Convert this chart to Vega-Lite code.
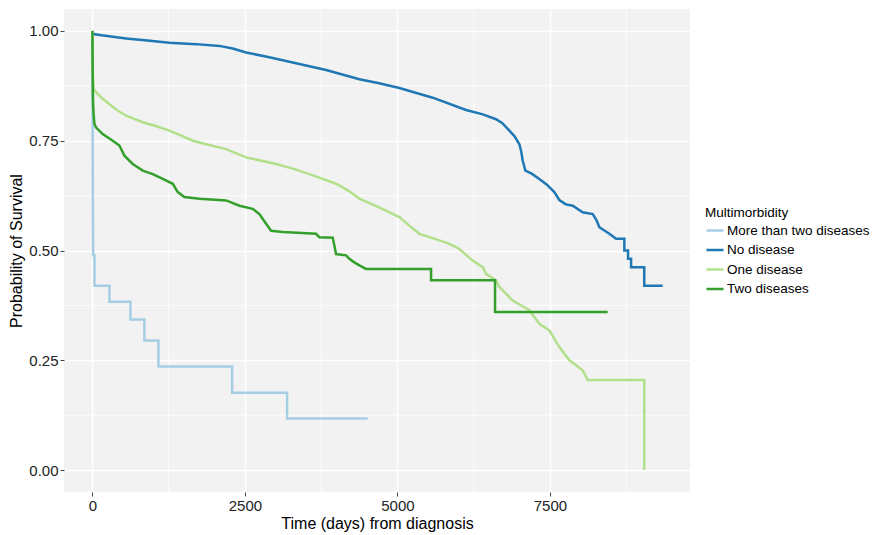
{
  "$schema": "https://vega.github.io/schema/vega-lite/v6.json",
  "width": 626,
  "height": 483,
  "autosize": "none",
  "padding": {"left": 64, "top": 9, "right": 182, "bottom": 43},
  "background": "white",
  "config": {
    "font": "Liberation Sans",
    "view": {"fill": "#F2F2F2", "stroke": null},
    "axis": {
      "domain": false,
      "labelFontSize": 15,
      "labelColor": "#222222",
      "titleFontSize": 16,
      "titleColor": "#000000",
      "titleFontWeight": "normal",
      "tickColor": "#444444",
      "tickSize": 4,
      "gridColor": "#FFFFFF",
      "gridWidth": 1.6
    },
    "legend": {
      "titleFontSize": 13.5,
      "titleFontWeight": "normal",
      "titleColor": "#000000",
      "labelFontSize": 13.5,
      "labelColor": "#000000"
    }
  },
  "datasets": {
    "minorx": [{"v": 1250}, {"v": 3750}, {"v": 6250}, {"v": 8750}],
    "minory": [{"v": 0.125}, {"v": 0.375}, {"v": 0.625}, {"v": 0.875}],
    "km": [
      {"g": "More than two diseases", "t": 0, "s": 1.0},
      {"g": "More than two diseases", "t": 2, "s": 0.88},
      {"g": "More than two diseases", "t": 4, "s": 0.76},
      {"g": "More than two diseases", "t": 6, "s": 0.65},
      {"g": "More than two diseases", "t": 10, "s": 0.53},
      {"g": "More than two diseases", "t": 12, "s": 0.489},
      {"g": "More than two diseases", "t": 33, "s": 0.489},
      {"g": "More than two diseases", "t": 33, "s": 0.42},
      {"g": "More than two diseases", "t": 279, "s": 0.42},
      {"g": "More than two diseases", "t": 279, "s": 0.383},
      {"g": "More than two diseases", "t": 623, "s": 0.383},
      {"g": "More than two diseases", "t": 623, "s": 0.343},
      {"g": "More than two diseases", "t": 852, "s": 0.343},
      {"g": "More than two diseases", "t": 852, "s": 0.295},
      {"g": "More than two diseases", "t": 1082, "s": 0.295},
      {"g": "More than two diseases", "t": 1082, "s": 0.236},
      {"g": "More than two diseases", "t": 2290, "s": 0.236},
      {"g": "More than two diseases", "t": 2290, "s": 0.176},
      {"g": "More than two diseases", "t": 3191, "s": 0.176},
      {"g": "More than two diseases", "t": 3191, "s": 0.1175},
      {"g": "More than two diseases", "t": 4512, "s": 0.1175},

      {"g": "No disease", "t": 0, "s": 1.0},
      {"g": "No disease", "t": 15, "s": 0.993},
      {"g": "No disease", "t": 150, "s": 0.99},
      {"g": "No disease", "t": 552, "s": 0.983},
      {"g": "No disease", "t": 900, "s": 0.978},
      {"g": "No disease", "t": 1262, "s": 0.973},
      {"g": "No disease", "t": 1700, "s": 0.97},
      {"g": "No disease", "t": 2082, "s": 0.966},
      {"g": "No disease", "t": 2300, "s": 0.96},
      {"g": "No disease", "t": 2519, "s": 0.951},
      {"g": "No disease", "t": 2900, "s": 0.94},
      {"g": "No disease", "t": 3284, "s": 0.928},
      {"g": "No disease", "t": 3830, "s": 0.911},
      {"g": "No disease", "t": 4376, "s": 0.89},
      {"g": "No disease", "t": 4700, "s": 0.881},
      {"g": "No disease", "t": 5032, "s": 0.87},
      {"g": "No disease", "t": 5578, "s": 0.848},
      {"g": "No disease", "t": 6125, "s": 0.82},
      {"g": "No disease", "t": 6400, "s": 0.81},
      {"g": "No disease", "t": 6616, "s": 0.799},
      {"g": "No disease", "t": 6720, "s": 0.79},
      {"g": "No disease", "t": 6835, "s": 0.773},
      {"g": "No disease", "t": 6920, "s": 0.76},
      {"g": "No disease", "t": 6999, "s": 0.742},
      {"g": "No disease", "t": 7030, "s": 0.725},
      {"g": "No disease", "t": 7053, "s": 0.705},
      {"g": "No disease", "t": 7097, "s": 0.682},
      {"g": "No disease", "t": 7200, "s": 0.675},
      {"g": "No disease", "t": 7326, "s": 0.663},
      {"g": "No disease", "t": 7450, "s": 0.65},
      {"g": "No disease", "t": 7572, "s": 0.633},
      {"g": "No disease", "t": 7654, "s": 0.615},
      {"g": "No disease", "t": 7760, "s": 0.605},
      {"g": "No disease", "t": 7873, "s": 0.602},
      {"g": "No disease", "t": 8037, "s": 0.587},
      {"g": "No disease", "t": 8201, "s": 0.583},
      {"g": "No disease", "t": 8260, "s": 0.57},
      {"g": "No disease", "t": 8310, "s": 0.553},
      {"g": "No disease", "t": 8474, "s": 0.538},
      {"g": "No disease", "t": 8583, "s": 0.527},
      {"g": "No disease", "t": 8720, "s": 0.527},
      {"g": "No disease", "t": 8720, "s": 0.5},
      {"g": "No disease", "t": 8780, "s": 0.5},
      {"g": "No disease", "t": 8780, "s": 0.481},
      {"g": "No disease", "t": 8830, "s": 0.481},
      {"g": "No disease", "t": 8830, "s": 0.462},
      {"g": "No disease", "t": 9046, "s": 0.462},
      {"g": "No disease", "t": 9046, "s": 0.42},
      {"g": "No disease", "t": 9347, "s": 0.42},

      {"g": "One disease", "t": 0, "s": 1.0},
      {"g": "One disease", "t": 2, "s": 0.96},
      {"g": "One disease", "t": 4, "s": 0.93},
      {"g": "One disease", "t": 7, "s": 0.905},
      {"g": "One disease", "t": 12, "s": 0.885},
      {"g": "One disease", "t": 25, "s": 0.867},
      {"g": "One disease", "t": 60, "s": 0.86},
      {"g": "One disease", "t": 150, "s": 0.848},
      {"g": "One disease", "t": 279, "s": 0.833},
      {"g": "One disease", "t": 400, "s": 0.82},
      {"g": "One disease", "t": 552, "s": 0.807},
      {"g": "One disease", "t": 825, "s": 0.792},
      {"g": "One disease", "t": 1050, "s": 0.783},
      {"g": "One disease", "t": 1262, "s": 0.773},
      {"g": "One disease", "t": 1450, "s": 0.762},
      {"g": "One disease", "t": 1644, "s": 0.75},
      {"g": "One disease", "t": 1900, "s": 0.741},
      {"g": "One disease", "t": 2191, "s": 0.731},
      {"g": "One disease", "t": 2519, "s": 0.712},
      {"g": "One disease", "t": 3011, "s": 0.697},
      {"g": "One disease", "t": 3300, "s": 0.686},
      {"g": "One disease", "t": 3557, "s": 0.674},
      {"g": "One disease", "t": 3994, "s": 0.652},
      {"g": "One disease", "t": 4200, "s": 0.636},
      {"g": "One disease", "t": 4376, "s": 0.618},
      {"g": "One disease", "t": 4700, "s": 0.598},
      {"g": "One disease", "t": 5032, "s": 0.576},
      {"g": "One disease", "t": 5200, "s": 0.556},
      {"g": "One disease", "t": 5360, "s": 0.538},
      {"g": "One disease", "t": 5687, "s": 0.523},
      {"g": "One disease", "t": 5851, "s": 0.515},
      {"g": "One disease", "t": 6000, "s": 0.505},
      {"g": "One disease", "t": 6125, "s": 0.49},
      {"g": "One disease", "t": 6233, "s": 0.477},
      {"g": "One disease", "t": 6398, "s": 0.462},
      {"g": "One disease", "t": 6452, "s": 0.447},
      {"g": "One disease", "t": 6616, "s": 0.432},
      {"g": "One disease", "t": 6671, "s": 0.417},
      {"g": "One disease", "t": 6835, "s": 0.394},
      {"g": "One disease", "t": 6889, "s": 0.386},
      {"g": "One disease", "t": 7163, "s": 0.364},
      {"g": "One disease", "t": 7326, "s": 0.333},
      {"g": "One disease", "t": 7490, "s": 0.318},
      {"g": "One disease", "t": 7654, "s": 0.28},
      {"g": "One disease", "t": 7818, "s": 0.25},
      {"g": "One disease", "t": 8037, "s": 0.227},
      {"g": "One disease", "t": 8119, "s": 0.205},
      {"g": "One disease", "t": 9046, "s": 0.205},
      {"g": "One disease", "t": 9046, "s": 0.0},

      {"g": "Two diseases", "t": 0, "s": 1.0},
      {"g": "Two diseases", "t": 2, "s": 0.95},
      {"g": "Two diseases", "t": 4, "s": 0.9},
      {"g": "Two diseases", "t": 7, "s": 0.86},
      {"g": "Two diseases", "t": 12, "s": 0.83},
      {"g": "Two diseases", "t": 20, "s": 0.81},
      {"g": "Two diseases", "t": 33, "s": 0.788},
      {"g": "Two diseases", "t": 60, "s": 0.78},
      {"g": "Two diseases", "t": 169, "s": 0.765},
      {"g": "Two diseases", "t": 333, "s": 0.75},
      {"g": "Two diseases", "t": 442, "s": 0.739},
      {"g": "Two diseases", "t": 524, "s": 0.716},
      {"g": "Two diseases", "t": 661, "s": 0.697},
      {"g": "Two diseases", "t": 825, "s": 0.682},
      {"g": "Two diseases", "t": 989, "s": 0.674},
      {"g": "Two diseases", "t": 1153, "s": 0.663},
      {"g": "Two diseases", "t": 1317, "s": 0.652},
      {"g": "Two diseases", "t": 1399, "s": 0.633},
      {"g": "Two diseases", "t": 1508, "s": 0.622},
      {"g": "Two diseases", "t": 1754, "s": 0.618},
      {"g": "Two diseases", "t": 2191, "s": 0.614},
      {"g": "Two diseases", "t": 2410, "s": 0.602},
      {"g": "Two diseases", "t": 2628, "s": 0.595},
      {"g": "Two diseases", "t": 2737, "s": 0.583},
      {"g": "Two diseases", "t": 2847, "s": 0.561},
      {"g": "Two diseases", "t": 2929, "s": 0.545},
      {"g": "Two diseases", "t": 3120, "s": 0.542},
      {"g": "Two diseases", "t": 3666, "s": 0.538},
      {"g": "Two diseases", "t": 3721, "s": 0.53},
      {"g": "Two diseases", "t": 3940, "s": 0.529},
      {"g": "Two diseases", "t": 3994, "s": 0.492},
      {"g": "Two diseases", "t": 4158, "s": 0.489},
      {"g": "Two diseases", "t": 4212, "s": 0.481},
      {"g": "Two diseases", "t": 4294, "s": 0.473},
      {"g": "Two diseases", "t": 4376, "s": 0.466},
      {"g": "Two diseases", "t": 4486, "s": 0.458},
      {"g": "Two diseases", "t": 5551, "s": 0.458},
      {"g": "Two diseases", "t": 5551, "s": 0.432},
      {"g": "Two diseases", "t": 6600, "s": 0.432},
      {"g": "Two diseases", "t": 6600, "s": 0.36},
      {"g": "Two diseases", "t": 8446, "s": 0.36}
    ]
  },
  "layer": [
    {
      "data": {"name": "minorx"},
      "mark": {"type": "rule", "color": "#FFFFFF", "strokeWidth": 0.8},
      "encoding": {
        "x": {
          "field": "v", "type": "quantitative",
          "scale": {"domain": [-466, 9796], "nice": false, "zero": false},
          "axis": {"values": [0, 2500, 5000, 7500], "format": "d", "title": "Time (days) from diagnosis", "labelPadding": 2, "titlePadding": 2}
        }
      }
    },
    {
      "data": {"name": "minory"},
      "mark": {"type": "rule", "color": "#FFFFFF", "strokeWidth": 0.8},
      "encoding": {
        "y": {
          "field": "v", "type": "quantitative",
          "scale": {"domain": [-0.05, 1.05], "nice": false, "zero": false},
          "axis": {"values": [0, 0.25, 0.5, 0.75, 1], "format": ".2f", "title": "Probability of Survival", "labelPadding": 2, "titlePadding": 4}
        }
      }
    },
    {
      "data": {"name": "km"},
      "mark": {"type": "line", "strokeWidth": 2.5, "clip": true},
      "encoding": {
        "x": {
          "field": "t", "type": "quantitative",
          "scale": {"domain": [-466, 9796], "nice": false, "zero": false},
          "axis": {"values": [0, 2500, 5000, 7500], "format": "d", "title": "Time (days) from diagnosis", "labelPadding": 2, "titlePadding": 2}
        },
        "y": {
          "field": "s", "type": "quantitative",
          "scale": {"domain": [-0.05, 1.05], "nice": false, "zero": false},
          "axis": {"values": [0, 0.25, 0.5, 0.75, 1], "format": ".2f", "title": "Probability of Survival", "labelPadding": 2, "titlePadding": 4}
        },
        "order": {"value": null},
        "color": {
          "field": "g", "type": "nominal",
          "scale": {
            "domain": ["More than two diseases", "No disease", "One disease", "Two diseases"],
            "range": ["#A6CEE3", "#1F78B4", "#B2DF8A", "#33A02C"]
          },
          "legend": {
            "title": "Multimorbidity",
            "orient": "none",
            "legendX": 641,
            "legendY": 197,
            "symbolType": "stroke",
            "symbolSize": 290,
            "symbolStrokeWidth": 2.5,
            "rowPadding": 2.5,
            "labelOffset": 2,
            "titlePadding": 1
          }
        }
      }
    }
  ]
}
